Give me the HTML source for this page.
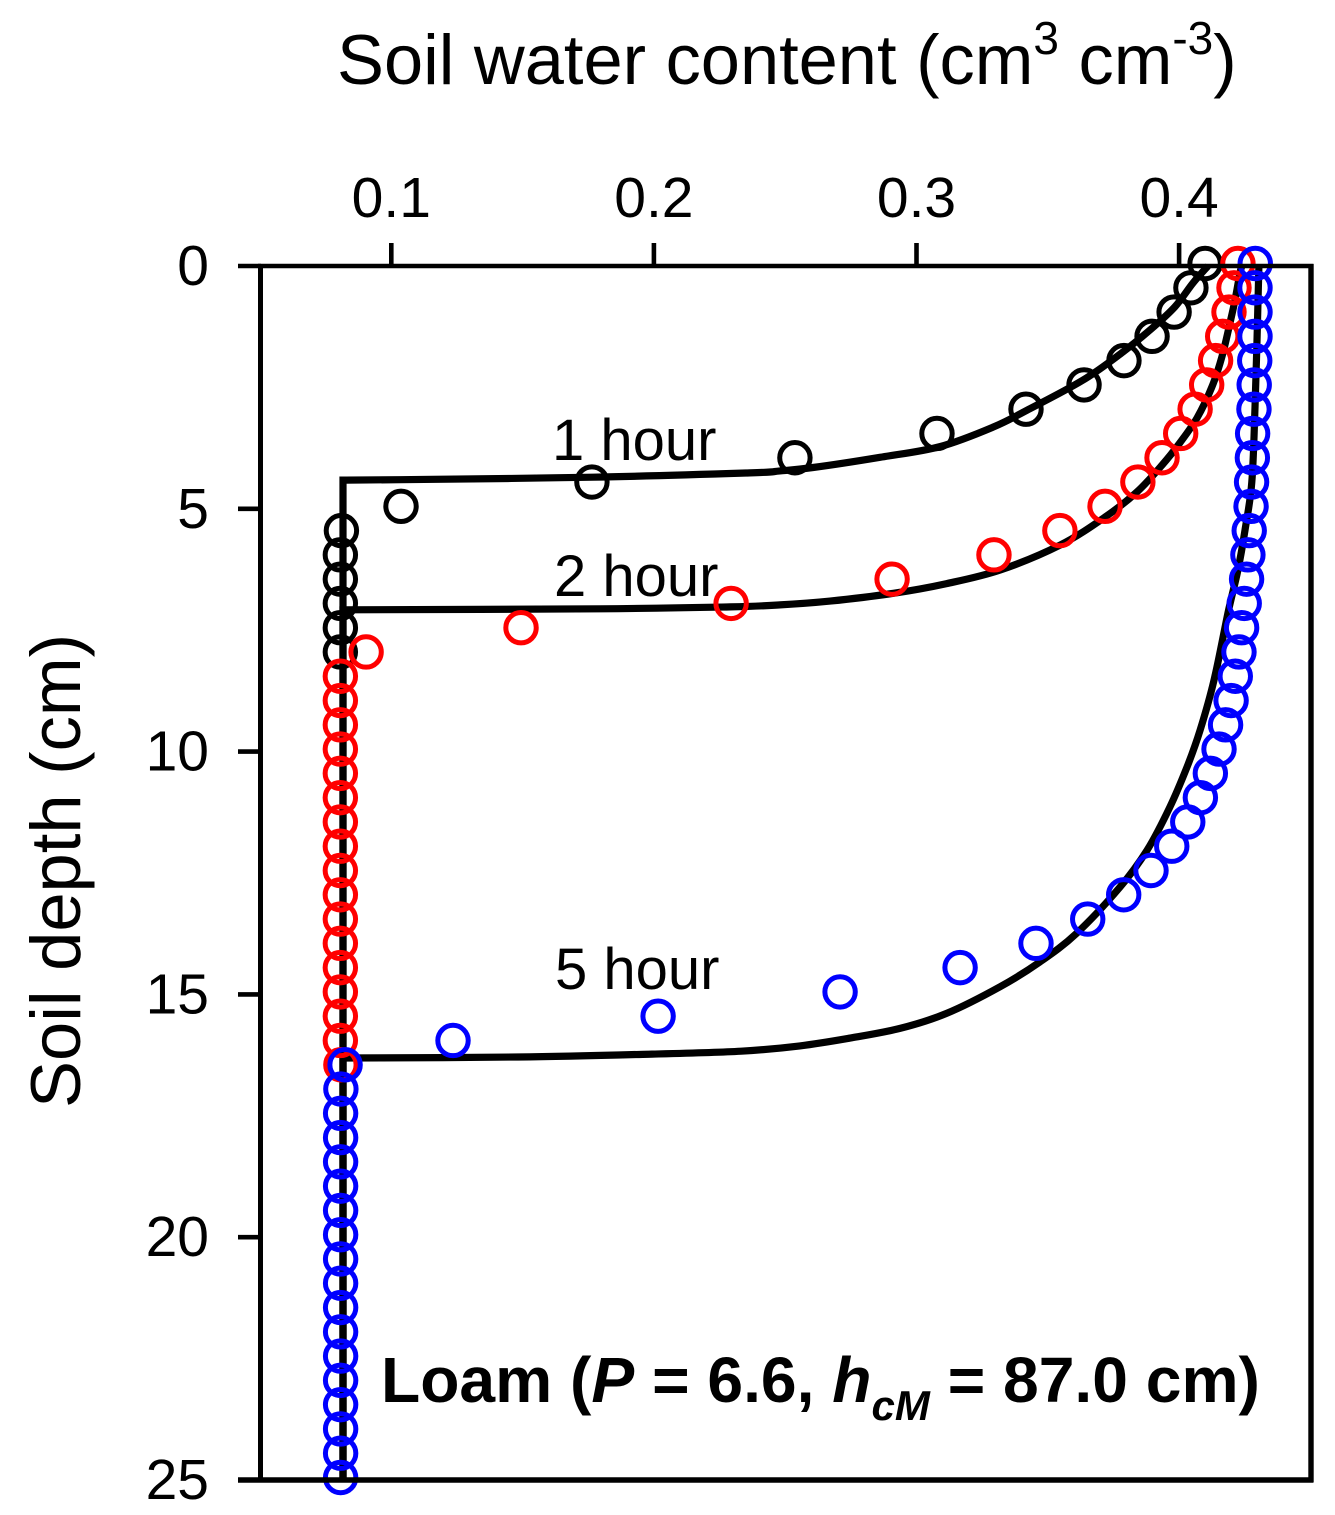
<!DOCTYPE html>
<html lang="en">
<head>
<meta charset="utf-8">
<title>Soil water content vs depth</title>
<style>
html,body{margin:0;padding:0;background:#fff;}
svg{display:block;}
text{font-family:"Liberation Sans",Arial,sans-serif;fill:#000;}
</style>
</head>
<body>
<svg id="chart" xmlns="http://www.w3.org/2000/svg" width="1335" height="1515" viewBox="0 0 1335 1515">
  <rect x="0" y="0" width="1335" height="1515" fill="#fff"/>
  <text x="337" y="84" font-size="70.4">Soil water content (cm<tspan font-size="46" dy="-30">3</tspan><tspan dy="30"> cm</tspan><tspan font-size="46" dy="-30">-3</tspan><tspan dy="30">)</tspan></text>
  <text transform="translate(80,1108) rotate(-90)" x="0" y="0" font-size="70.5">Soil depth (cm)</text>
  <g id="lines"></g>
  <g id="markers"></g>
  <g id="axes">
    <line x1="258" y1="266" x2="1313.5" y2="266" stroke="#000" stroke-width="4.6"/>
    <line x1="260.5" y1="264" x2="260.5" y2="1482" stroke="#000" stroke-width="5"/>
    <line x1="1311" y1="264" x2="1311" y2="1482" stroke="#000" stroke-width="5.4"/>
    <line x1="238" y1="1480" x2="1313.5" y2="1480" stroke="#000" stroke-width="5.4"/>
  </g>
  <text x="552" y="460" font-size="58">1 hour</text>
  <text x="554" y="596" font-size="58">2 hour</text>
  <text x="555" y="989" font-size="58">5 hour</text>
  <text x="381" y="1402" font-size="64.2" font-weight="bold">Loam (<tspan font-style="italic">P</tspan> = 6.6, <tspan font-style="italic">h</tspan><tspan font-style="italic" font-size="42" dy="18">cM</tspan><tspan dy="-18"> = 87.0 cm)</tspan></text>
</svg>
<script>
// Axis tick labels
const xTicks = [0.1, 0.2, 0.3, 0.4];
const yTicks = [0, 5, 10, 15, 20, 25];

// Observed depths (cm)
const depths = [0,0.5,1,1.5,2,2.5,3,3.5,4,4.5,5,5.5,6,6.5,7,7.5,8,8.5,9,9.5,10,10.5,11,11.5,12,12.5,13,13.5,14,14.5,15,15.5,16,16.5,17,17.5,18,18.5,19,19.5,20,20.5,21,21.5,22,22.5,23,23.5,24,24.5,25];

// Observed water content by depth
const theta1h = [0.4099,0.4045,0.3981,0.3897,0.3790,0.3638,0.3417,0.3078,0.2537,0.1764,0.1037,0.0810,0.0806,0.0806,0.0806,0.0806,0.0806];
const theta2h = [0.4224,0.4209,0.4190,0.4166,0.4139,0.4105,0.4061,0.4006,0.3935,0.3843,0.3718,0.3546,0.3295,0.2907,0.2294,0.1494,0.0904,0.0806,0.0806,0.0806,0.0806,0.0806,0.0806,0.0806,0.0806,0.0806,0.0806,0.0806,0.0806,0.0806,0.0806,0.0806,0.0806,0.0808];
const theta5h = [0.4290,0.4289,0.4289,0.4289,0.4288,0.4286,0.4285,0.4280,0.4279,0.4276,0.4274,0.4267,0.4262,0.4257,0.4248,0.4238,0.4228,0.4214,0.4198,0.4177,0.4152,0.4119,0.4081,0.4033,0.3972,0.3893,0.3789,0.3652,0.3455,0.3166,0.2709,0.2016,0.1235,0.0824,0.0808,0.0807,0.0807,0.0807,0.0807,0.0807,0.0807,0.0807,0.0807,0.0807,0.0807,0.0807,0.0807,0.0807,0.0807,0.0807,0.0807];

// Model curves: water content and depth
const line1Theta = [0.0816,0.0816,0.1033,0.1768,0.2366,0.2480,0.2606,0.2861,0.3089,0.3291,0.3421,0.3634,0.3786,0.3897,0.3984,0.4053,0.4110];
const line1Depth = [25,4.41,4.40,4.35,4.26,4.22,4.15,3.94,3.72,3.32,2.97,2.35,1.77,1.28,0.84,0.35,0];
const line2Theta = [0.0816,0.0816,0.1795,0.2290,0.2480,0.2671,0.2912,0.3115,0.3319,0.3546,0.3718,0.3840,0.3935,0.4003,0.4068,0.4125,0.4163,0.4194,0.4213,0.4232,0.4239];
const line2Depth = [25,7.08,7.06,7.02,6.98,6.90,6.74,6.54,6.26,5.75,5.17,4.65,4.10,3.64,3.13,2.49,1.87,1.17,0.70,0.14,0];
const line3Theta = [0.0816,0.0816,0.1482,0.1993,0.2332,0.2556,0.2747,0.2937,0.3115,0.3319,0.3470,0.3610,0.3775,0.3878,0.3965,0.4030,0.4080,0.4133,0.4186,0.4224,0.4251,0.4277,0.4289,0.4297,0.4304];
const line3Depth = [25,16.31,16.29,16.23,16.17,16.06,15.90,15.70,15.39,14.84,14.33,13.74,12.79,12.03,11.14,10.32,9.56,8.53,7.15,6.26,5.44,4.45,2.92,1.46,0];

const NS = 'http://www.w3.org/2000/svg';
const xDomain = [0.05, 0.45], xRange = [260.0, 1310.4];
const yDomain = [0, 25], yRange = [266, 1480];
const markerShift = -2.5;

function xScale(v) {
  return xRange[0] + (v - xDomain[0]) / (xDomain[1] - xDomain[0]) * (xRange[1] - xRange[0]);
}
function yScale(d) {
  return yRange[0] + (d - yDomain[0]) / (yDomain[1] - yDomain[0]) * (yRange[1] - yRange[0]);
}
function make(tag, attrs, parent) {
  const el = document.createElementNS(NS, tag);
  for (const k in attrs) el.setAttribute(k, attrs[k]);
  parent.appendChild(el);
  return el;
}

const axes = document.getElementById('axes');
xTicks.forEach(function (t) {
  const px = xScale(t);
  const tick = make('line', {x1: px, x2: px, y1: 243, y2: 266, stroke: '#000', 'stroke-width': 4.6}, axes);
  
  
  const label = make('text', {x: px, y: 217, 'font-size': 57, 'text-anchor': 'middle'}, axes);
  
  
  label.textContent = t.toFixed(1);
});
yTicks.forEach(function (t) {
  const py = yScale(t);
  const tick = make('line', {x1: 238, x2: 261, y1: py, y2: py, stroke: '#000', 'stroke-width': 4.6}, axes);
  
  
  const label = make('text', {x: 209, y: py + 19, 'font-size': 57, 'text-anchor': 'end'}, axes);
  
  
  label.textContent = String(t);
});

const linesGroup = document.getElementById('lines');
function drawLine(thetas, ds, name) {
  const p = thetas.map(function (v, i) { return [xScale(v), yScale(ds[i])]; });
  let d = 'M' + p[0][0].toFixed(1) + ' ' + p[0][1].toFixed(1) + ' L' + p[1][0].toFixed(1) + ' ' + p[1][1].toFixed(1);
  for (let i = 1; i < p.length - 1; i++) {
    const p0 = p[Math.max(i - 1, 1)], p1 = p[i], p2 = p[i + 1], p3 = p[Math.min(i + 2, p.length - 1)];
    const c1x = p1[0] + (p2[0] - p0[0]) / 6, c1y = p1[1] + (p2[1] - p0[1]) / 6;
    const c2x = p2[0] - (p3[0] - p1[0]) / 6, c2y = p2[1] - (p3[1] - p1[1]) / 6;
    d += ' C' + c1x.toFixed(1) + ' ' + c1y.toFixed(1) + ' ' + c2x.toFixed(1) + ' ' + c2y.toFixed(1) + ' ' + p2[0].toFixed(1) + ' ' + p2[1].toFixed(1);
  }
  const line = make('path', {d: d, fill: 'none', stroke: '#000', 'stroke-width': 7.2, 'stroke-linejoin': 'miter'}, linesGroup);
  
  
}
drawLine(line1Theta, line1Depth, 'model-line-1-hour');
drawLine(line2Theta, line2Depth, 'model-line-2-hour');
drawLine(line3Theta, line3Depth, 'model-line-5-hour');

const markersGroup = document.getElementById('markers');
function drawMarkers(thetas, color, name) {
  thetas.forEach(function (v, i) {
    const c = make('circle', {cx: xScale(v), cy: yScale(depths[i]) + markerShift, r: 15.2, fill: 'none', stroke: color, 'stroke-width': 5}, markersGroup);
    
    
  });
}
drawMarkers(theta1h, '#000000', 'observed-point-1-hour');
drawMarkers(theta2h, '#ff0000', 'observed-point-2-hour');
drawMarkers(theta5h, '#0000ff', 'observed-point-5-hour');
</script>
</body>
</html>
